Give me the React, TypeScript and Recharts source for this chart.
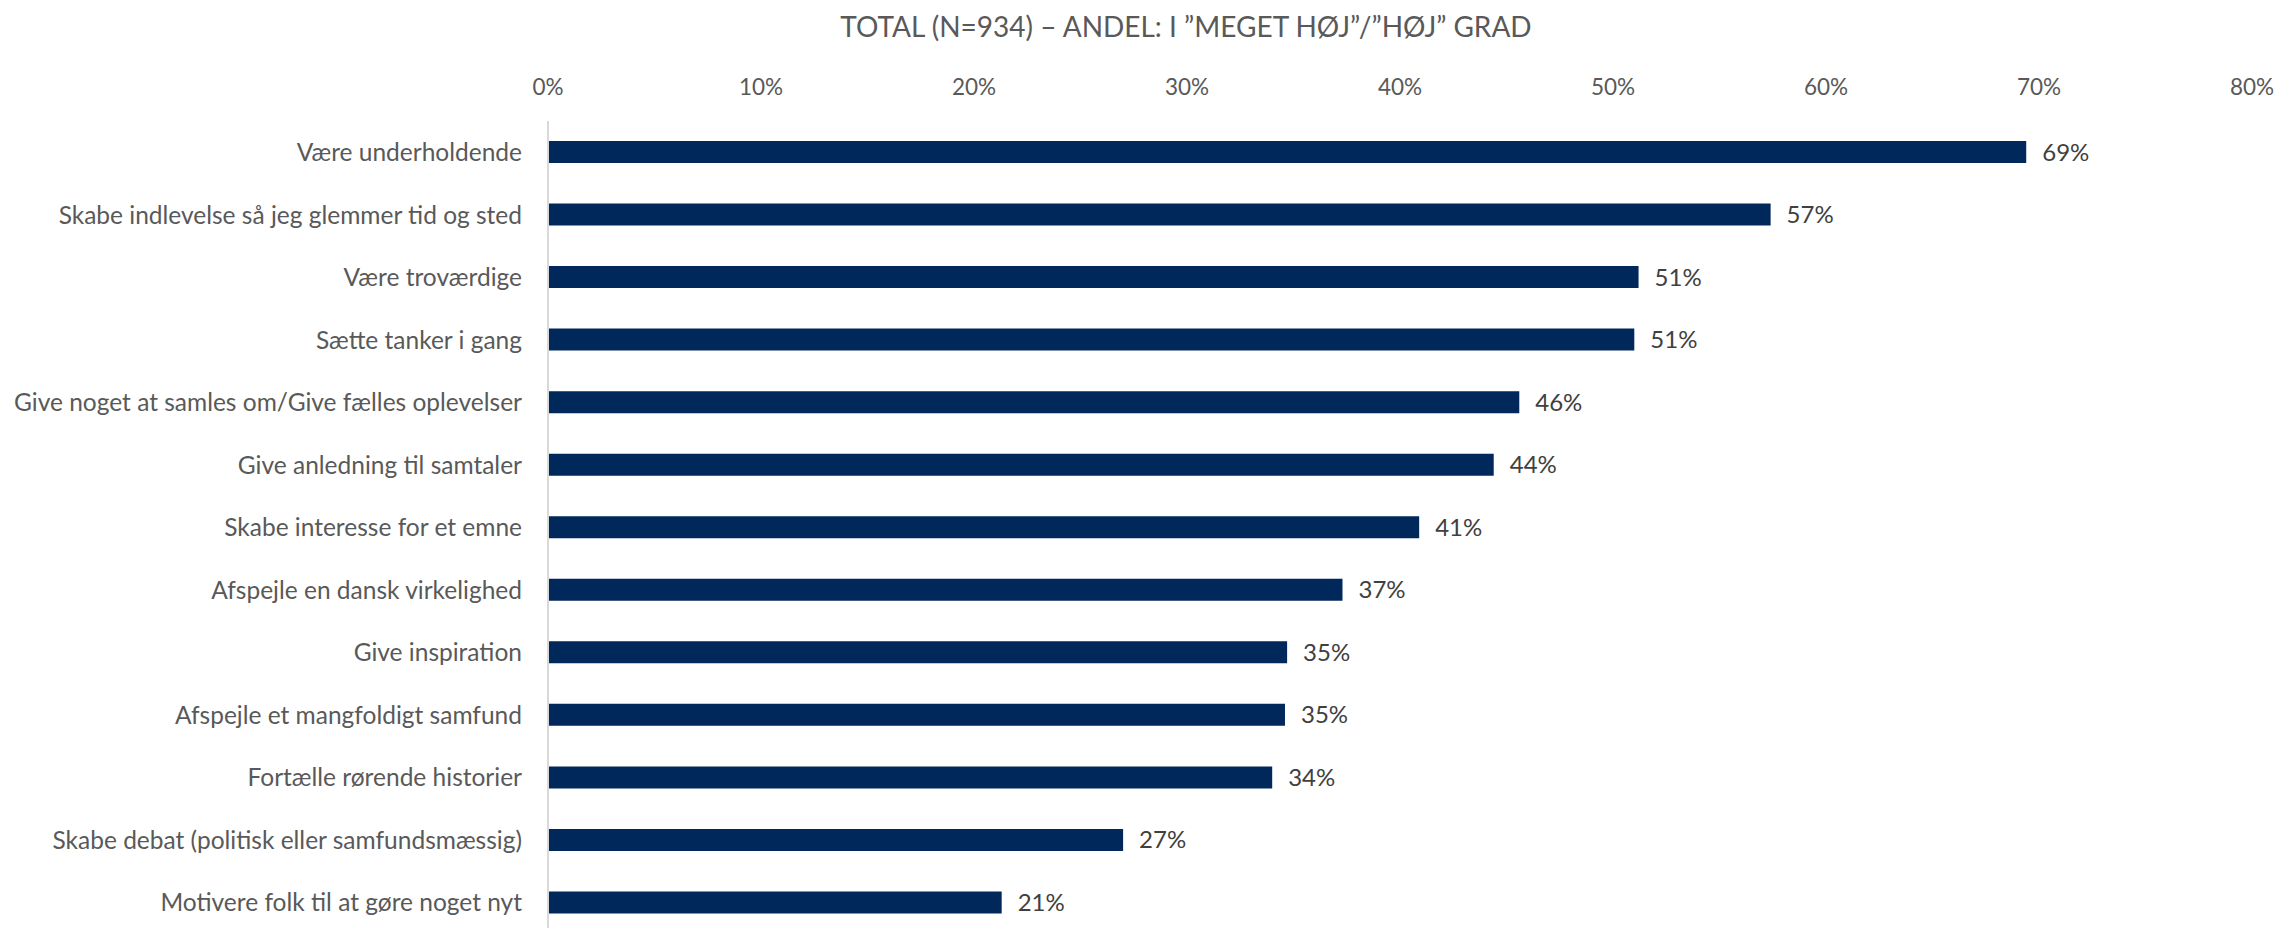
import { BarChart, Bar, XAxis, YAxis, LabelList } from "recharts";

const CATEGORIES = [
  "Være underholdende",
  "Skabe indlevelse så jeg glemmer tid og sted",
  "Være troværdige",
  "Sætte tanker i gang",
  "Give noget at samles om/Give fælles oplevelser",
  "Give anledning til samtaler",
  "Skabe interesse for et emne",
  "Afspejle en dansk virkelighed",
  "Give inspiration",
  "Afspejle et mangfoldigt samfund",
  "Fortælle rørende historier",
  "Skabe debat (politisk eller samfundsmæssig)",
  "Motivere folk til at gøre noget nyt",
];

const VALUES = [69.4, 57.4, 51.2, 51.0, 45.6, 44.4, 40.9, 37.3, 34.7, 34.6, 34.0, 27.0, 21.3];

const X_TICKS = [0, 10, 20, 30, 40, 50, 60, 70, 80];

const TITLE = "TOTAL (N=934) – ANDEL: I ”MEGET HØJ”/”HØJ” GRAD";

const data = CATEGORIES.map((name, i) => ({ name, value: VALUES[i] }));

const FONT = "Lato, 'Noto Sans', sans-serif";

export default function App() {
  return (
    <div style={{ position: "absolute", left: 0, top: 0, width: 2279, height: 928, overflow: "hidden", background: "#fff", fontFamily: FONT }}>
      <div
        style={{
          position: "absolute",
          left: 1186,
          top: 8,
          transform: "translateX(-50%)",
          whiteSpace: "nowrap",
          fontSize: 28,
          color: "#595959",
          lineHeight: "36px",
        }}
      >
        {TITLE}
      </div>
      <BarChart
        width={2279}
        height={934}
        data={data}
        layout="vertical"
        margin={{ top: 81, right: 27, bottom: 0, left: 0 }}
        barCategoryGap="32%"
      >
        <XAxis
          type="number"
          orientation="top"
          domain={[0, 80]}
          ticks={X_TICKS}
          tickFormatter={(v) => `${v}%`}
          axisLine={false}
          tickLine={false}
          height={40}
          tickSize={0}
          tickMargin={26}
          tick={{ fill: "#595959", fontSize: 22.5, fontFamily: FONT }}
          interval={0}
        />
        <YAxis
          type="category"
          dataKey="name"
          width={548}
          axisLine={{ stroke: "#D9D9D9", strokeWidth: 2 }}
          tickLine={false}
          tickSize={0}
          tickMargin={26}
          interval={0}
          tick={{ fill: "#595959", fontSize: 24.5, fontFamily: FONT }}
        />
        <Bar dataKey="value" fill="#00285A" barSize={22} isAnimationActive={false}>
          <LabelList
            dataKey="value"
            position="right"
            offset={16}
            formatter={(v: number) => `${Math.round(v)}%`}
            style={{ fill: "#404040", fontSize: 24, fontFamily: FONT }}
          />
        </Bar>
      </BarChart>
    </div>
  );
}
